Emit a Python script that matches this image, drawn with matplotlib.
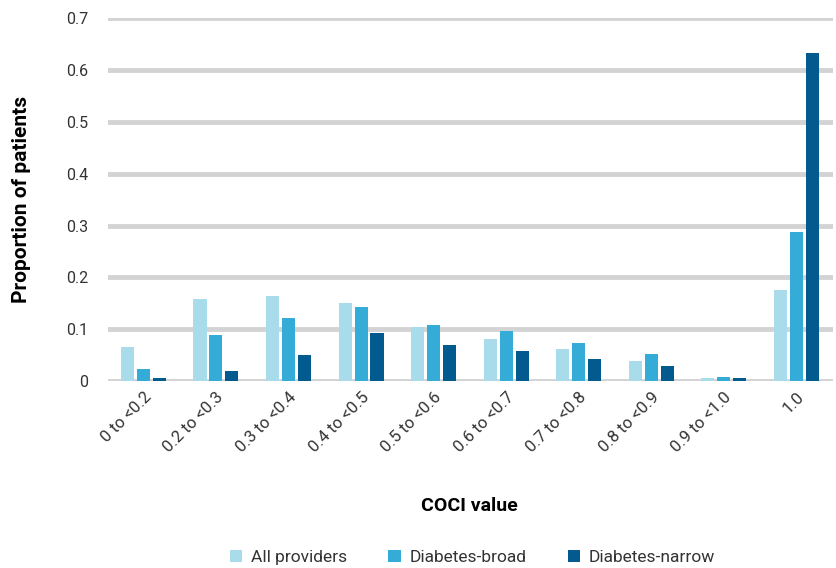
import numpy as np
import matplotlib
matplotlib.use("Agg")
import matplotlib.pyplot as plt

plt.rcParams["font.family"] = ["Roboto", "DejaVu Sans"]

CATEGORIES = ["0 to <0.2", "0.2 to <0.3", "0.3 to <0.4", "0.4 to <0.5", "0.5 to <0.6",
              "0.6 to <0.7", "0.7 to <0.8", "0.8 to <0.9", "0.9 to <1.0", "1.0"]
ALL_PROVIDERS = [0.065, 0.158, 0.164, 0.150, 0.104, 0.082, 0.061, 0.038, 0.006, 0.175]
DIABETES_BROAD = [0.023, 0.088, 0.122, 0.143, 0.108, 0.097, 0.074, 0.053, 0.008, 0.288]
DIABETES_NARROW = [0.006, 0.019, 0.051, 0.093, 0.070, 0.059, 0.042, 0.030, 0.006, 0.632]
Y_TICKS = [0, 0.1, 0.2, 0.3, 0.4, 0.5, 0.6, 0.7]
Y_TICK_LABELS = ["0", "0.1", "0.2", "0.3", "0.4", "0.5", "0.6", "0.7"]

series = [
    ("All providers", ALL_PROVIDERS, "#a8dcea"),
    ("Diabetes-broad", DIABETES_BROAD, "#35acd7"),
    ("Diabetes-narrow", DIABETES_NARROW, "#035a8e"),
]

fig = plt.figure(figsize=(8.36, 5.68), dpi=100)
ax = fig.add_axes([0.129, 0.329, 0.867, 0.639])

x = np.arange(len(CATEGORIES))
step = 0.22
width = 0.18
for i, (name, vals, col) in enumerate(series):
    ax.bar(x + (i - 1) * step, vals, width=width, color=col, label=name, zorder=3)

ax.set_xlim(-0.49, 9.5)
ax.set_ylim(0, 0.7)
ax.set_yticks(Y_TICKS)
ax.set_yticklabels(Y_TICK_LABELS)
ax.yaxis.grid(True, color="#d3d3d5", linewidth=3.5, zorder=0)
ax.set_axisbelow(True)
for s in ax.spines.values():
    s.set_visible(False)
ax.tick_params(axis="y", length=0, pad=14, labelsize=11.5, labelcolor="#333333")
ax.tick_params(axis="x", length=0, pad=6, labelsize=12, labelcolor="#333333")
ax.set_xticks(x)
ax.set_xticklabels(CATEGORIES, rotation=45, ha="right", rotation_mode="anchor")

ax.set_ylabel("Proportion of patients", fontsize=15, fontweight="bold", labelpad=25)
fig.text(0.562, 0.11, "COCI value", fontsize=14, fontweight="bold", ha="center", va="center")

fig.legend(loc="center", bbox_to_anchor=(0.565, 0.018), ncol=3, frameon=False,
           fontsize=12.5, handlelength=0.7, handleheight=0.7, columnspacing=2.4,
           handletextpad=0.5, labelcolor="#333333")

fig.savefig("out.png", dpi=100)
